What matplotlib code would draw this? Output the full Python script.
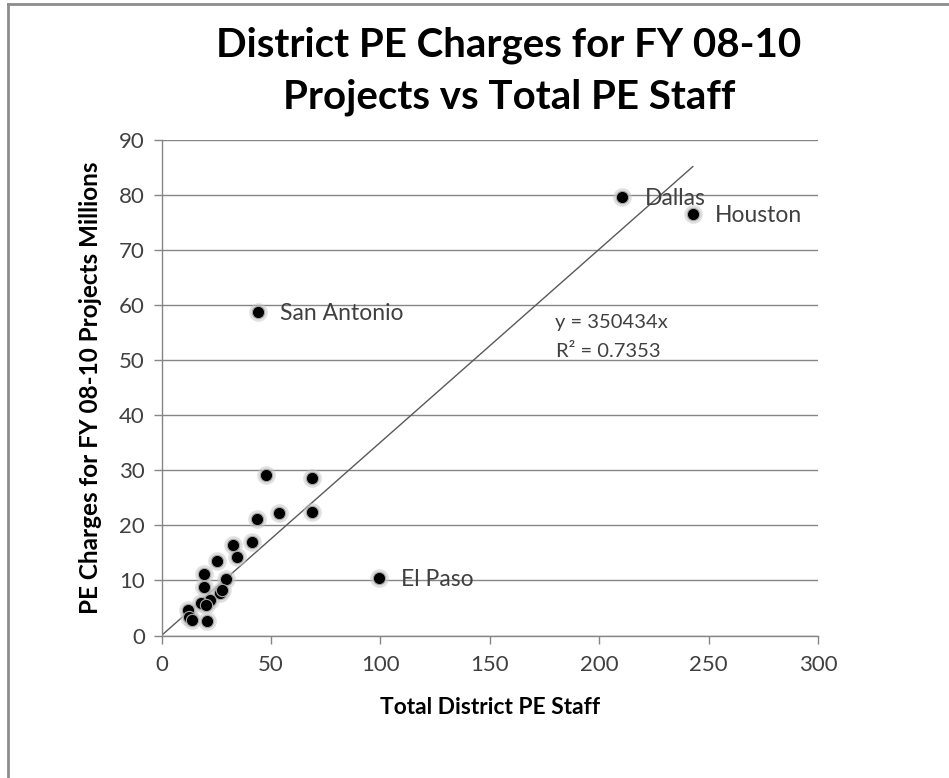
import matplotlib
matplotlib.use("Agg")
import matplotlib.pyplot as plt
from matplotlib.lines import Line2D

# staff vs PE charges (millions), unlabeled districts
staff = [47.6, 68.6, 43.5, 53.7, 68.6, 32.8, 41.5, 34.3, 25.5, 19.4, 29.5,
         19.4, 26.7, 27.5, 22.1, 17.9, 20.3, 12.2, 12.7, 13.8, 20.9]
charges = [29.2, 28.5, 21.2, 22.2, 22.4, 16.4, 16.9, 14.3, 13.6, 11.2, 10.3,
           8.8, 7.7, 8.2, 6.5, 5.9, 5.5, 4.7, 3.3, 2.9, 2.7]

# labeled districts
named = ["San Antonio", "El Paso", "Dallas", "Houston"]
named_staff = [44.1, 99.3, 210.6, 242.8]
named_charges = [58.7, 10.4, 79.5, 76.5]

slope = 0.350434
eq_text = "y = 350434x"
r2_text = "R\u00b2 = 0.7353"

plt.rcParams['font.family'] = ['Lato', 'DejaVu Sans']

fig = plt.figure(figsize=(9.49, 7.78), dpi=100)
W, H = 949, 778
ax = fig.add_axes([161.5 / W, 1 - 635.5 / H, (818 - 161.5) / W, (635.5 - 139.5) / H])

grey = "#868686"
txt = "#404040"

all_x = staff + named_staff
all_y = charges + named_charges

ax.set_xlim(0, 300)
ax.set_ylim(0, 90)
ax.set_yticks(range(0, 91, 10))
ax.set_xticks(range(0, 301, 50))
ax.yaxis.grid(True, color=grey, lw=1)
ax.set_axisbelow(True)
for s in ["top", "right"]:
    ax.spines[s].set_visible(False)
for s in ["left", "bottom"]:
    ax.spines[s].set_color(grey)
    ax.spines[s].set_linewidth(1)
ax.tick_params(colors=grey, labelcolor=txt, labelsize=16, length=6, width=1)
ax.tick_params(axis="x", pad=8)
ax.tick_params(axis="y", pad=6)

# trendline through origin
xmax = max(all_x)
ax.plot([0, xmax], [0, slope * xmax], color="#595959", lw=1, zorder=2)

# markers with a soft grey halo
ax.scatter(all_x, all_y, s=180, color="#c8c8c8", alpha=0.55, lw=0, zorder=3)
ax.scatter(all_x, all_y, s=78, color="black", edgecolor="#a8a8a8", lw=0.8, zorder=4)

for name, x, y in zip(named, named_staff, named_charges):
    ax.annotate(name, (x, y), xytext=(16, -1), textcoords="offset points",
                va="center", ha="left", fontsize=16.5, color=txt, zorder=5)

ax.text(179.7, 56.8, eq_text, fontsize=14.5, color=txt, va="center", ha="left")
ax.text(180.5, 51.5, r2_text, fontsize=14.5, color=txt, va="center", ha="left")

ax.set_xlabel("Total District PE Staff", fontsize=16.4, fontweight="bold", labelpad=16)
ax.set_ylabel("PE Charges for FY 08-10 Projects Millions", fontsize=17.5,
              fontweight="bold", labelpad=12)

fig.text(509 / W, 1 - 71 / H, "District PE Charges for FY 08-10\nProjects vs Total PE Staff",
         ha="center", va="center", fontsize=29, fontweight="bold",
         linespacing=1.5)

# chart area border
fig.add_artist(Line2D([7.5 / W, 1], [1 - 4 / H, 1 - 4 / H], color="#8c8c8c", lw=2))
fig.add_artist(Line2D([7.5 / W, 7.5 / W], [0, 1 - 4 / H], color="#8c8c8c", lw=2))

fig.savefig("out.png", dpi=100)
